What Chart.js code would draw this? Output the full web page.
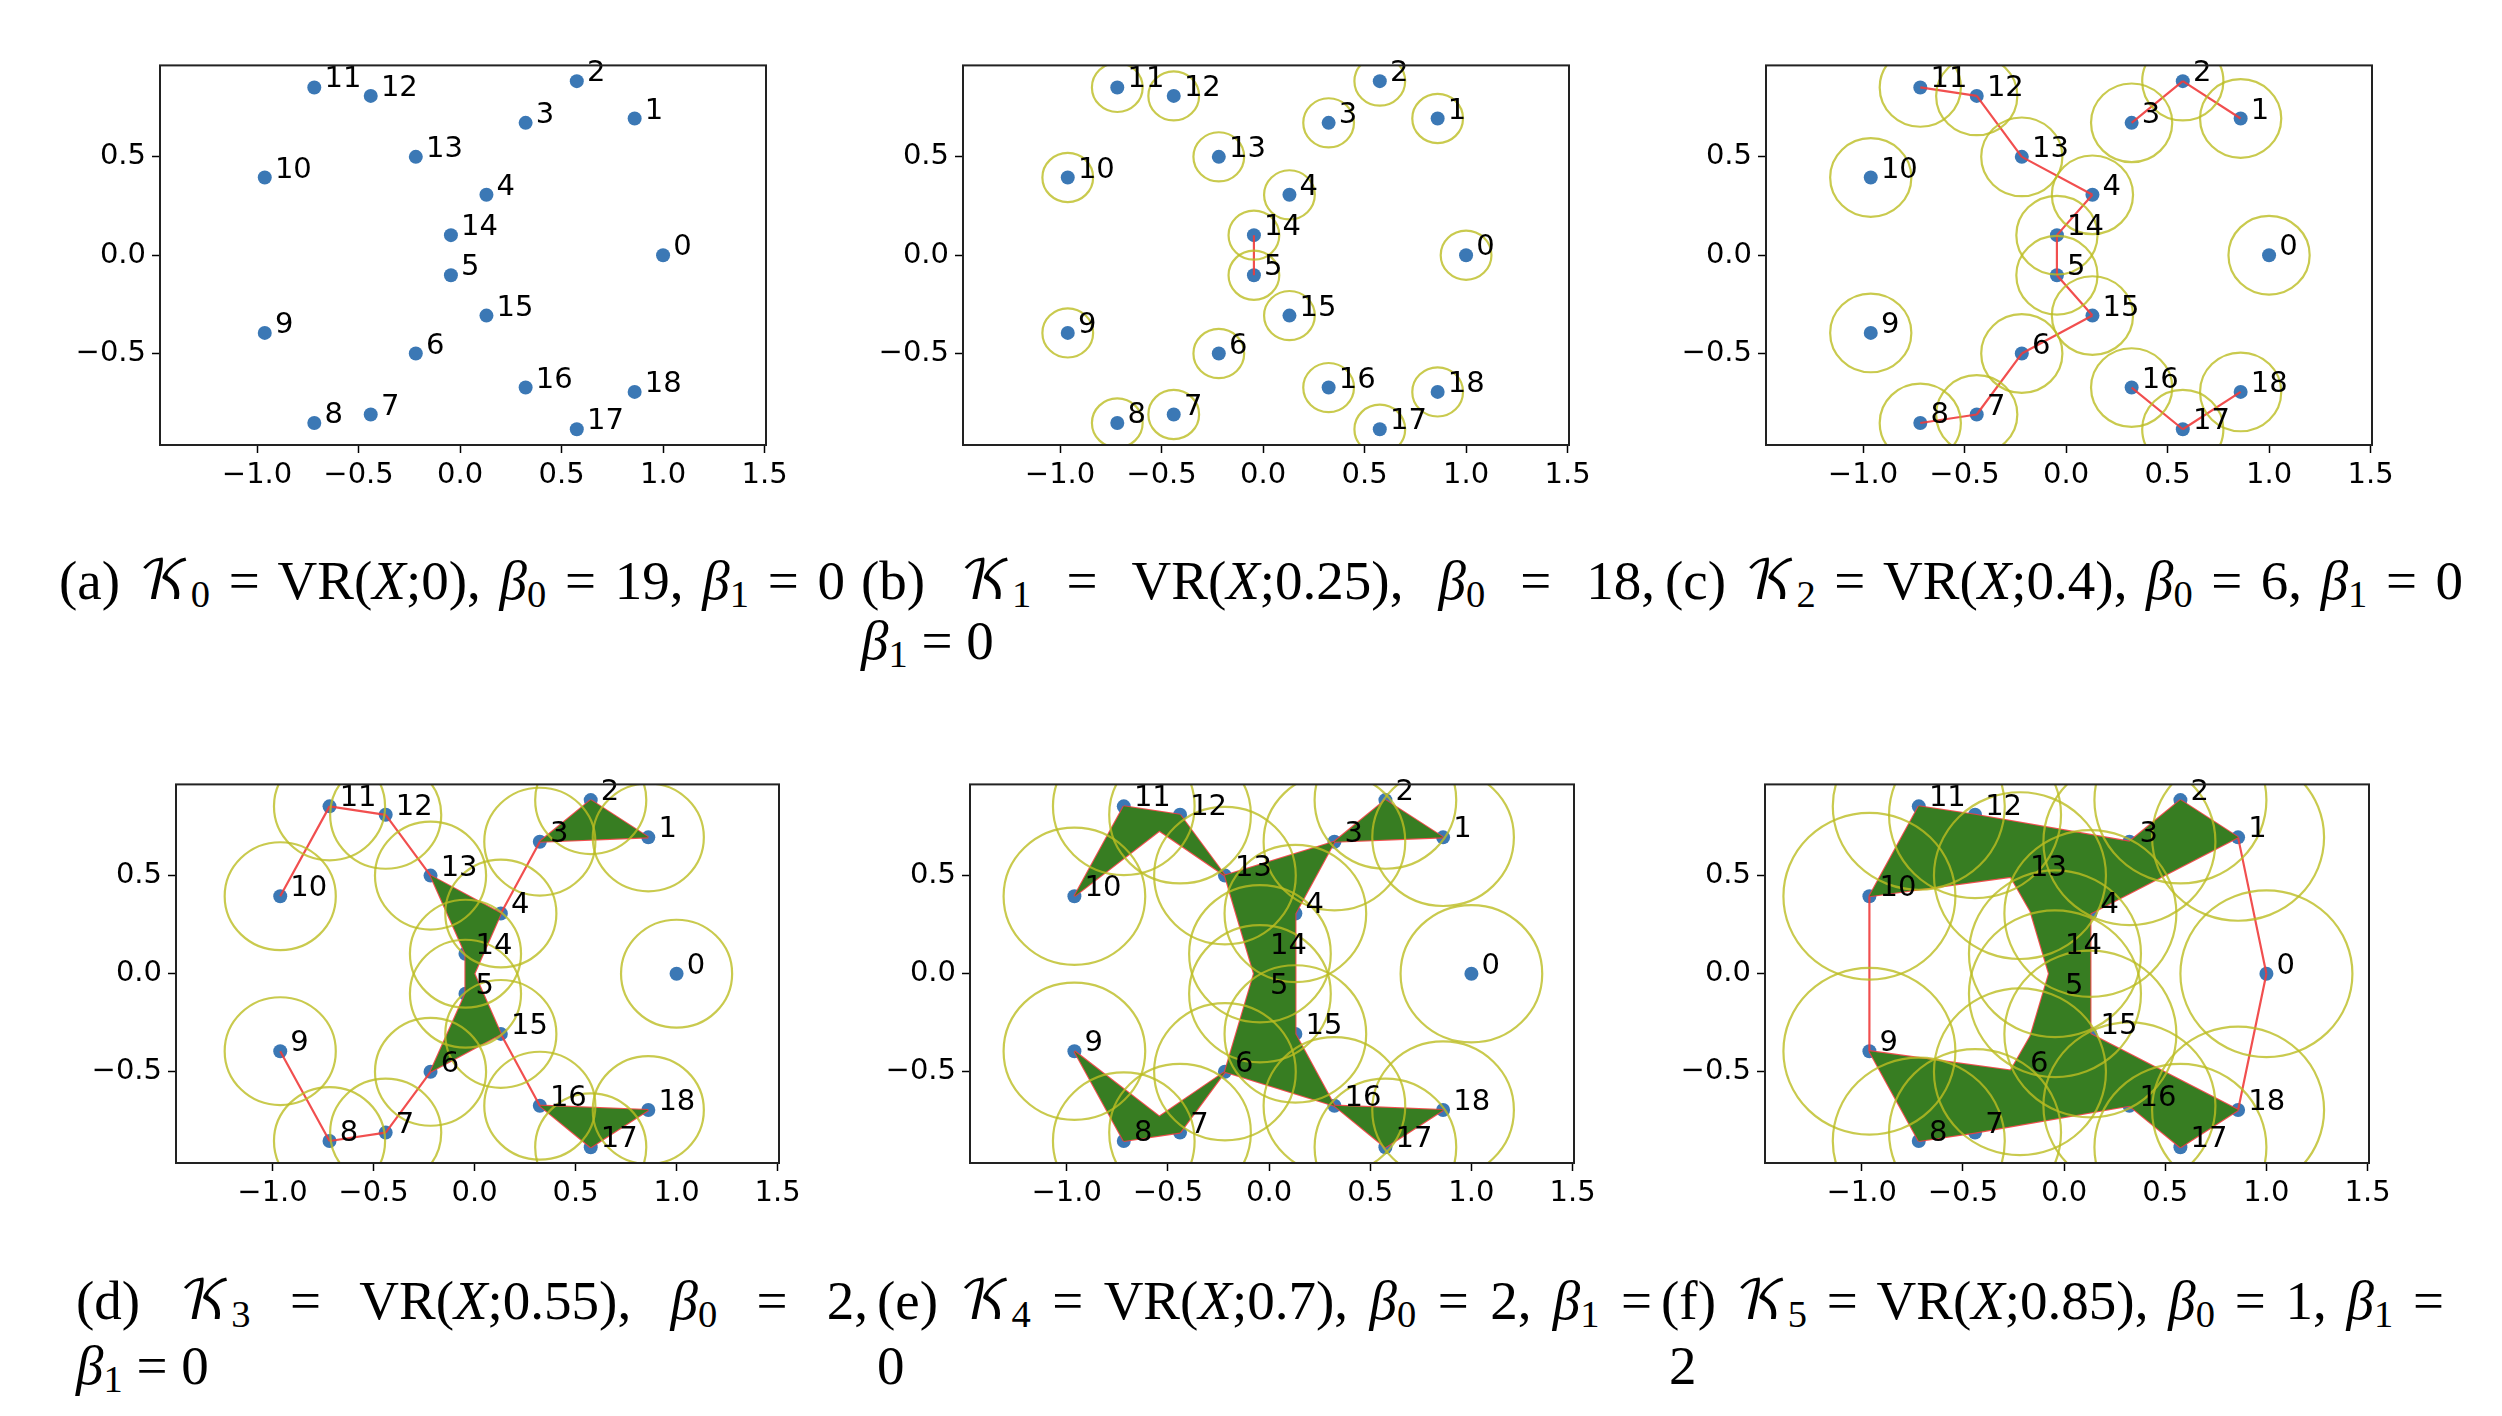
<!DOCTYPE html>
<html>
<head>
<meta charset="utf-8">
<script src="https://cdn.jsdelivr.net/npm/chart.js@4.4.0/dist/chart.umd.min.js"></script>
<style>
  body { margin: 0; background: #fff; width: 2502px; height: 1416px; position: relative; overflow: hidden; }
  canvas.panel { position: absolute; }
  .cap { position: absolute; font-family: "Liberation Serif", "Times New Roman", serif; font-size: 55px;
         line-height: 66px; white-space: nowrap; color: #000; }
  .s { font-size: 70%; position: relative; top: 0.22em; font-style: normal; }
  .k { font-family: "DejaVu Math TeX Gyre", "DejaVu Serif", serif; font-style: normal; }
</style>
</head>
<body>
<canvas id="c0" class="panel"></canvas>
<canvas id="c1" class="panel"></canvas>
<canvas id="c2" class="panel"></canvas>
<canvas id="c3" class="panel"></canvas>
<canvas id="c4" class="panel"></canvas>
<canvas id="c5" class="panel"></canvas>

<div class="cap" style="left:59px;top:548px" data-w="786">(a) <span class="k">𝒦</span><span class="s">0</span> = VR(<i>X</i>;0), <i>β</i><span class="s">0</span> = 19, <i>β</i><span class="s">1</span> = 0</div>
<div class="cap" style="left:861px;top:548px" data-w="794">(b) <span class="k">𝒦</span><span class="s">1</span> = VR(<i>X</i>;0.25), <i>β</i><span class="s">0</span> = 18,</div>
<div class="cap" style="left:861px;top:608px"><i>β</i><span class="s">1</span> = 0</div>
<div class="cap" style="left:1665px;top:548px" data-w="798">(c) <span class="k">𝒦</span><span class="s">2</span> = VR(<i>X</i>;0.4), <i>β</i><span class="s">0</span> = 6, <i>β</i><span class="s">1</span> = 0</div>

<div class="cap" style="left:76px;top:1268px" data-w="792">(d) <span class="k">𝒦</span><span class="s">3</span> = VR(<i>X</i>;0.55), <i>β</i><span class="s">0</span> = 2,</div>
<div class="cap" style="left:76px;top:1333px"><i>β</i><span class="s">1</span> = 0</div>
<div class="cap" style="left:877px;top:1268px" data-w="775">(e) <span class="k">𝒦</span><span class="s">4</span> = VR(<i>X</i>;0.7), <i>β</i><span class="s">0</span> = 2, <i>β</i><span class="s">1</span> =</div>
<div class="cap" style="left:877px;top:1333px">0</div>
<div class="cap" style="left:1661px;top:1268px" data-w="783">(f) <span class="k">𝒦</span><span class="s">5</span> = VR(<i>X</i>;0.85), <i>β</i><span class="s">0</span> = 1, <i>β</i><span class="s">1</span> =</div>
<div class="cap" style="left:1669px;top:1333px">2</div>

<script>
// points of X
const pointLabels = ['0', '1', '2', '3', '4', '5', '6', '7', '8', '9',
                     '10', '11', '12', '13', '14', '15', '16', '17', '18'];
const pointX = [1.0, 0.86, 0.575, 0.323, 0.13, -0.045, -0.218, -0.44, -0.718, -0.962,
                -0.962, -0.718, -0.44, -0.218, -0.045, 0.13, 0.323, 0.575, 0.86];
const pointY = [0.0, 0.695, 0.885, 0.673, 0.307, -0.102, -0.5, -0.81, -0.853, -0.395,
                0.395, 0.853, 0.81, 0.5, 0.102, -0.307, -0.673, -0.885, -0.695];

// scale r of each complex (circles drawn with radius r/2)
const radii = [0, 0.25, 0.4, 0.55, 0.7, 0.85];

// edges seen in each panel
const edges0 = [];
const edges1 = [[14, 5]];
const edges2 = [[1, 2], [2, 3], [4, 14], [4, 13], [13, 12], [12, 11], [14, 5],
                [18, 17], [17, 16], [15, 5], [15, 6], [6, 7], [7, 8]];
const edges3 = [[1, 2], [1, 3], [2, 3], [3, 4], [4, 14], [4, 13], [14, 13], [13, 12], [12, 11], [11, 10],
                [4, 5], [14, 5], [14, 15],
                [18, 17], [18, 16], [17, 16], [16, 15], [15, 5], [15, 6], [5, 6], [6, 7], [7, 8], [8, 9]];
const edges4 = [[1, 2], [1, 3], [2, 3], [3, 4], [3, 14], [3, 13], [4, 14], [4, 13], [14, 13], [13, 12],
                [13, 11], [12, 11], [12, 10], [11, 10],
                [4, 5], [4, 15], [14, 5], [14, 15], [14, 6], [13, 5],
                [18, 17], [18, 16], [17, 16], [16, 15], [16, 5], [16, 6], [15, 5], [15, 6], [5, 6], [6, 7],
                [6, 8], [7, 8], [7, 9], [8, 9]];
const edges5 = [[0, 1], [1, 2], [1, 3], [1, 4], [2, 3], [2, 4], [3, 4], [3, 14], [3, 13], [3, 12],
                [4, 14], [4, 13], [4, 12], [14, 13], [14, 12], [13, 12], [13, 11], [13, 10], [12, 11],
                [12, 10], [11, 10],
                [4, 5], [4, 15], [14, 5], [14, 15], [14, 6], [13, 5], [10, 9],
                [0, 18], [18, 17], [18, 16], [18, 15], [17, 16], [17, 15], [16, 15], [16, 5], [16, 6],
                [16, 7], [15, 5], [15, 6], [15, 7], [5, 6], [5, 7], [6, 7], [6, 8], [6, 9], [7, 8],
                [7, 9], [8, 9]];
const panelEdges = [edges0, edges1, edges2, edges3, edges4, edges5];

const xTicks = [-1.0, -0.5, 0.0, 0.5, 1.0, 1.5];
const xTickLabels = ['\u22121.0', '\u22120.5', '0.0', '0.5', '1.0', '1.5'];
const yTicks = [-0.5, 0.0, 0.5];
const yTickLabels = ['\u22120.5', '0.0', '0.5'];

const xMin = -1.478, xMax = 1.507, yMin = -0.965, yMax = 0.965;

// axes frames on the page: left, top, right, bottom
const frames = [[160, 56, 766, 449], [963, 56, 1569, 449], [1766, 56, 2372, 449],
                [176, 775, 779, 1167], [970, 775, 1574, 1167], [1765, 775, 2369, 1167]];

// filled triangles = every triple whose three edges are all in the panel
function triangles(edges) {
  const has = new Set(edges.map(([a, b]) => Math.min(a, b) + '-' + Math.max(a, b)));
  const e = (a, b) => has.has(Math.min(a, b) + '-' + Math.max(a, b));
  const out = [];
  const n = pointX.length;
  for (let i = 0; i < n; i++)
    for (let j = i + 1; j < n; j++)
      for (let k = j + 1; k < n; k++)
        if (e(i, j) && e(j, k) && e(i, k)) out.push([i, j, k]);
  return out;
}

const vrPlugin = {
  id: 'vr',
  afterDatasetsDraw(chart) {
    const { ctx, chartArea: a, scales: { x, y } } = chart;
    const o = chart.options.plugins.vr;
    const px = i => x.getPixelForValue(pointX[i]);
    const py = i => y.getPixelForValue(pointY[i]);

    ctx.save();
    ctx.beginPath();
    ctx.rect(a.left, a.top, a.right - a.left, a.bottom - a.top);
    ctx.clip();

    // 2-simplices, one path, all wound the same way
    if (o.tris.length) {
      ctx.beginPath();
      o.tris.forEach(t => {
        let [p, q, r] = t;
        const cross = (px(q) - px(p)) * (py(r) - py(p)) - (py(q) - py(p)) * (px(r) - px(p));
        if (cross < 0) [q, r] = [r, q];
        ctx.moveTo(px(p), py(p));
        ctx.lineTo(px(q), py(q));
        ctx.lineTo(px(r), py(r));
        ctx.closePath();
      });
      ctx.fillStyle = '#377d22';
      ctx.fill('nonzero');
    }

    // balls of radius r/2
    if (o.r > 0) {
      ctx.strokeStyle = 'rgba(188,189,34,0.8)';
      ctx.lineWidth = 2.2;
      pointX.forEach((vx, i) => {
        const cx = px(i), cy = py(i);
        const rx = x.getPixelForValue(vx + o.r / 2) - cx;
        const ry = cy - y.getPixelForValue(pointY[i] + o.r / 2);
        ctx.beginPath();
        ctx.ellipse(cx, cy, rx, ry, 0, 0, Math.PI * 2);
        ctx.stroke();
      });
    }
    ctx.restore();

    ctx.save();
    ctx.fillStyle = '#000';
    ctx.font = '29px "DejaVu Sans"';
    ctx.textBaseline = 'alphabetic';
    ctx.textAlign = 'left';
    pointLabels.forEach((lab, i) => {
      ctx.fillText(lab, x.getPixelForValue(pointX[i] + 0.05), py(i));
    });
    ctx.strokeStyle = '#222';
    ctx.lineWidth = 2;
    ctx.strokeRect(a.left, a.top, a.right - a.left, a.bottom - a.top);
    ctx.restore();
  }
};

const tickFont = { family: 'DejaVu Sans', size: 29 };

frames.forEach(([L, T, R, B], p) => {
  const cv = document.getElementById('c' + p);
  const w = R - L + 140, h = B - T + 78;
  cv.width = w; cv.height = h;
  cv.style.left = (L - 100) + 'px';
  cv.style.top = (T - 14) + 'px';

  const pts = pointX.map((vx, i) => ({ x: vx, y: pointY[i] }));
  const segs = panelEdges[p].flatMap(([a, b]) => [
    { x: pointX[a], y: pointY[a] }, { x: pointX[b], y: pointY[b] }, { x: null, y: null }
  ]);

  new Chart(cv.getContext('2d'), {
    type: 'scatter',
    data: {
      datasets: [
        { data: pts, order: 2, pointRadius: 7, pointHoverRadius: 7, borderWidth: 0,
          backgroundColor: '#3b78b5', pointBorderWidth: 0 },
        { data: segs, order: 1, showLine: true, spanGaps: false, pointRadius: 0, pointHoverRadius: 0,
          borderColor: 'rgba(240,60,60,0.9)', borderWidth: 2.2, fill: false, tension: 0 }
      ]
    },
    options: {
      responsive: false,
      animation: false,
      events: [],
      layout: { padding: { left: 10, right: 40, top: 14, bottom: 4 } },
      plugins: {
        legend: { display: false },
        tooltip: { enabled: false },
        vr: { r: radii[p], tris: triangles(panelEdges[p]) }
      },
      scales: {
        x: {
          type: 'linear', min: xMin, max: xMax,
          afterBuildTicks: s => { s.ticks = xTicks.map(v => ({ value: v })); },
          afterFit: s => { s.height = 64; },
          ticks: { callback: (v, i) => xTickLabels[i], font: tickFont, color: '#000', padding: 5,
                   maxRotation: 0, autoSkip: false },
          grid: { drawOnChartArea: false, tickLength: 8, color: '#000', tickWidth: 1.5 },
          border: { display: false }
        },
        y: {
          type: 'linear', min: yMin, max: yMax,
          afterBuildTicks: s => { s.ticks = yTicks.map(v => ({ value: v })); },
          afterFit: s => { s.width = 90; },
          ticks: { callback: (v, i) => yTickLabels[i], font: tickFont, color: '#000', padding: 6,
                   autoSkip: false },
          grid: { drawOnChartArea: false, tickLength: 8, color: '#000', tickWidth: 1.5 },
          border: { display: false }
        }
      }
    },
    plugins: [vrPlugin]
  });
});

// stretch the caption lines the way the justified subcaptions are
function fitCaptions() {
  document.querySelectorAll('.cap[data-w]').forEach(el => {
    el.style.wordSpacing = '0px';
    const n = (el.textContent.match(/ /g) || []).length;
    const nat = el.getBoundingClientRect().width;
    if (n) el.style.wordSpacing = ((+el.dataset.w - nat) / n) + 'px';
  });
}
fitCaptions();
if (document.fonts) document.fonts.ready.then(fitCaptions);
</script>
</body>
</html>
